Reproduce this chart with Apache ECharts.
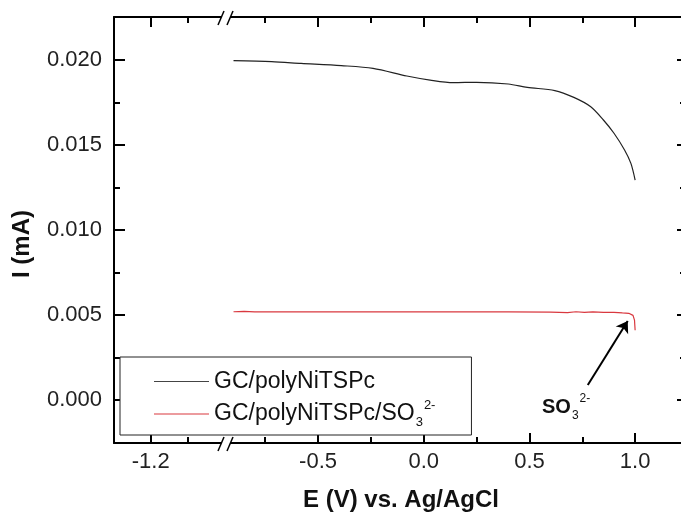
<!DOCTYPE html>
<html>
<head>
<meta charset="utf-8">
<script src="https://cdn.jsdelivr.net/npm/echarts@6/dist/echarts.min.js"></script>
<style>
  html, body { margin: 0; padding: 0; background: #fff; }
  #chart { width: 681px; height: 512px; }
</style>
</head>
<body>
<div id="chart"></div>
<script>
  // potential E (V vs. Ag/AgCl) and current I (mA)
  var blackE = [-0.90, -0.72, -0.58, -0.39, -0.24, -0.08, 0.03, 0.14, 0.25, 0.40, 0.49, 0.62, 0.71, 0.79, 0.85, 0.90, 0.95, 0.98, 1.00];
  var blackI = [0.01996, 0.0199, 0.0198, 0.01967, 0.01951, 0.01906, 0.01882, 0.01867, 0.01869, 0.01859, 0.01839, 0.0182, 0.0178, 0.01725, 0.01647, 0.01569, 0.01471, 0.01392, 0.01294];
  var redE = [-0.90, -0.85, -0.80, -0.70, -0.60, -0.40, -0.20, 0.00, 0.20, 0.40, 0.60, 0.68, 0.72, 0.76, 0.80, 0.85, 0.90, 0.94, 0.97, 0.99, 0.997, 1.00];
  var redI = [0.00519, 0.00521, 0.00518, 0.00519, 0.00518, 0.00518, 0.00518, 0.00518, 0.00518, 0.00518, 0.00517, 0.00514, 0.00519, 0.00515, 0.00518, 0.00516, 0.00515, 0.00512, 0.0051, 0.00498, 0.0047, 0.0041];
  var seriesNames = ['GC/polyNiTSPc', 'GC/polyNiTSPc/SO3 2-'];

  // tick values
  var leftMajor = [-1.2], leftMinor = [-1.1];
  var rightMajor = [-0.5, 0, 0.5, 1.0], rightMinor = [-0.75, -0.25, 0.25, 0.75];
  var yMajor = [0, 0.005, 0.010, 0.015, 0.020], yMinor = [0.0025, 0.0075, 0.0125, 0.0175];

  // arrow pointing at the red curve
  var arrowFrom = [0.776, 0.00088], arrowTo = [0.965, 0.00465];

  var FONT = 'Liberation Sans, Arial, sans-serif';
  var chart = echarts.init(document.getElementById('chart'));

  function pairs(xs, ys) {
    return xs.map(function (x, i) { return [x, ys[i]]; });
  }

  function xAx(grid, pos, min, max, ticks, len, showLine, showLabel) {
    return {
      type: 'value', gridIndex: grid, position: pos, min: min, max: max,
      splitLine: { show: false },
      axisLine: { show: showLine, onZero: false, lineStyle: { color: '#000', width: 2 } },
      axisTick: { show: true, inside: true, length: len, customValues: ticks, lineStyle: { color: '#000', width: 2 } },
      axisLabel: {
        show: showLabel, customValues: ticks, margin: 8,
        color: '#222', fontFamily: FONT, fontSize: 22,
        formatter: function (v) { return v.toFixed(1); }
      }
    };
  }

  function yAx(grid, pos, ticks, len, showLine, showLabel) {
    return {
      type: 'value', gridIndex: grid, position: pos, min: -0.00253, max: 0.02253,
      splitLine: { show: false },
      axisLine: { show: showLine, onZero: false, lineStyle: { color: '#000', width: 2 } },
      axisTick: { show: true, inside: true, length: len, customValues: ticks, lineStyle: { color: '#000', width: 2 } },
      axisLabel: {
        show: showLabel, customValues: ticks, margin: 12,
        color: '#222', fontFamily: FONT, fontSize: 22,
        formatter: function (v) { return v.toFixed(3); }
      }
    };
  }

  function breakMark(y) {
    return [
      { type: 'rect', z: 100, shape: { x: 221, y: y - 3, width: 9, height: 6 }, style: { fill: '#fff' } },
      { type: 'line', z: 101, shape: { x1: 218, y1: y + 8, x2: 224, y2: y - 6 }, style: { stroke: '#000', lineWidth: 1.5 } },
      { type: 'line', z: 101, shape: { x1: 227, y1: y + 8, x2: 233, y2: y - 6 }, style: { stroke: '#000', lineWidth: 1.5 } }
    ];
  }

  chart.setOption({
    backgroundColor: '#fff',
    animation: false,
    grid: [
      { left: 114, top: 17, width: 110, height: 426 },
      { left: 224, top: 17, width: 457, height: 426 }
    ],
    xAxis: [
      xAx(0, 'bottom', -1.3, -1.0, leftMajor, 10, true, true),
      xAx(0, 'bottom', -1.3, -1.0, leftMinor, 6, false, false),
      xAx(0, 'top', -1.3, -1.0, leftMajor, 10, true, false),
      xAx(0, 'top', -1.3, -1.0, leftMinor, 6, false, false),
      xAx(1, 'bottom', -0.945, 1.217, rightMajor, 10, true, true),
      xAx(1, 'bottom', -0.945, 1.217, rightMinor, 6, false, false),
      xAx(1, 'top', -0.945, 1.217, rightMajor, 10, true, false),
      xAx(1, 'top', -0.945, 1.217, rightMinor, 6, false, false)
    ],
    yAxis: [
      yAx(0, 'left', yMajor, 11, true, true),
      yAx(0, 'left', yMinor, 6, false, false),
      // the right frame sits just past the picture edge: only tick stubs show
      yAx(1, 'right', yMajor, 4, false, false),
      yAx(1, 'right', yMinor, 1, false, false)
    ],
    legend: {
      data: seriesNames,
      orient: 'vertical',
      left: 120, top: 357,
      padding: [13, 36, 6, 34],
      itemGap: 6,
      itemWidth: 55, itemHeight: 1.2,
      icon: 'rect',
      backgroundColor: '#fff',
      borderColor: '#222', borderWidth: 1, borderRadius: 0,
      formatter: function (name) {
        if (name === seriesNames[1]) {
          return '{t|GC/polyNiTSPc/SO}{sub|3}{sup|2-}';
        }
        return '{t|' + name + '}';
      },
      textStyle: {
        rich: {
          t: { fontFamily: FONT, fontSize: 23, color: '#111', lineHeight: 30 },
          sub: { fontFamily: FONT, fontSize: 13, color: '#111', lineHeight: 13, padding: [16, 0, 0, 1] },
          sup: { fontFamily: FONT, fontSize: 13, color: '#111', lineHeight: 13, padding: [0, 0, 17, 1] }
        }
      }
    },
    series: [
      {
        name: seriesNames[0], type: 'line', xAxisIndex: 4, yAxisIndex: 2,
        data: pairs(blackE, blackI), symbol: 'none', smooth: 0.3,
        lineStyle: { color: '#222', width: 1.2 }, itemStyle: { color: '#444' }
      },
      {
        name: seriesNames[1], type: 'line', xAxisIndex: 4, yAxisIndex: 2,
        data: pairs(redE, redI), symbol: 'none',
        lineStyle: { color: '#d9383f', width: 1.2 }, itemStyle: { color: '#d9383f' },
        markLine: {
          silent: true, symbol: ['none', 'arrow'], symbolSize: 11,
          label: { show: false },
          lineStyle: { color: '#000', width: 2, type: 'solid' },
          data: [[{ coord: arrowFrom }, { coord: arrowTo }]]
        }
      }
    ],
    graphic: breakMark(17).concat(breakMark(443)).concat([
      {
        type: 'text', x: 22, y: 244, rotation: Math.PI / 2, z: 100,
        style: { text: 'I (mA)', font: 'bold 24px ' + FONT, fill: '#111', align: 'center', verticalAlign: 'middle' }
      },
      {
        type: 'text', x: 401, y: 500, z: 100,
        style: { text: 'E (V) vs. Ag/AgCl', font: 'bold 24px ' + FONT, fill: '#111', align: 'center', verticalAlign: 'middle' }
      },
      {
        type: 'text', x: 542, y: 407, z: 100,
        style: {
          text: '{b|SO}{sub|3}{sup|2-}',
          verticalAlign: 'middle',
          rich: {
            b: { font: 'bold 20px ' + FONT, fill: '#111', lineHeight: 30 },
            sub: { fontFamily: FONT, fontSize: 12, fill: '#111', lineHeight: 12, padding: [18, 0, 0, 1] },
            sup: { fontFamily: FONT, fontSize: 12, fill: '#111', lineHeight: 12, padding: [0, 0, 16, 1] }
          }
        }
      }
    ])
  });
</script>
</body>
</html>
